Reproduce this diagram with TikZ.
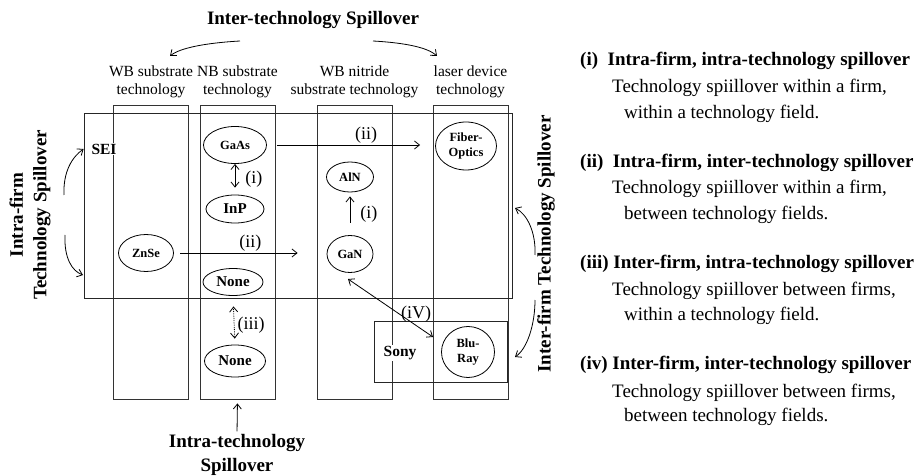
\documentclass[tikz,border=0pt]{standalone}
\usepackage{fontspec}
\setmainfont{Liberation Serif}
\usetikzlibrary{arrows.meta,shapes.geometric,positioning,calc}

\tikzset{
    >={Straight Barb[length=5pt,width=8pt]},
    col/.style={draw=black!80, line width=0.8pt, minimum width=75pt, minimum height=294pt, inner sep=0pt},
    firm/.style={draw=black!85, line width=0.8pt, inner sep=0pt},
    firmname/.style={fill=white, inner sep=1pt, font=\fontsize{15.5}{17}\selectfont\bfseries},
    tech/.style={ellipse, draw, line width=0.8pt, inner sep=0pt, align=center, font=\fontsize{12.5}{15}\selectfont\bfseries},
    bigtech/.style={tech, font=\fontsize{15}{17}\selectfont\bfseries},
    colname/.style={align=center, inner sep=1pt, font=\fontsize{15.5}{18}\selectfont},
    spill/.style={align=center, inner sep=1pt, font=\fontsize{19}{23.5}\selectfont\bfseries},
    kind/.style={inner sep=1pt, font=\fontsize{18}{20}\selectfont},
    flow/.style={->, line width=0.8pt},
    head/.style={anchor=base west, inner sep=0pt, font=\fontsize{19}{22}\selectfont\bfseries},
    body/.style={anchor=base west, inner sep=0pt, font=\fontsize{19}{22}\selectfont},
}

\begin{document}
\begin{tikzpicture}[x=1pt, y=-1pt]
    \useasboundingbox (0,0) rectangle (922,476);

    % technology columns
    \node[col] (colWB) at (151,252) {};
    \node[col] (colNB) at (237.5,252) {};
    \node[col] (colWN) at (354.5,252) {};
    \node[col] (colLD) at (470.5,252) {};
    \node[colname, above=6pt of colWB] {WB substrate\\technology};
    \node[colname, above=6pt of colNB] {NB substrate\\technology};
    \node[colname, above=6pt of colWN] {WB nitride\\substrate technology};
    \node[colname, above=6pt of colLD] {laser device\\technology};

    % firms
    \node[firm, minimum width=428pt, minimum height=185pt] (SEIbox) at (298,205.5) {};
    \node[firm, minimum width=133pt, minimum height=61pt] (Sonybox) at (440.5,351.5) {};
    \node[firmname] (SEI) at (104,149) {SEI};
    \node[firmname] (Sony) at (400,353) {Sony};

    % technologies
    \node[tech, minimum width=63pt, minimum height=37pt] (GaAs) at (235,145) {GaAs};
    \node[bigtech, minimum width=58pt, minimum height=28pt] (InP) at (235,209) {InP};
    \node[tech, minimum width=47pt, minimum height=30pt] (AlN) at (350,177) {AlN};
    \node[tech, minimum width=61pt, minimum height=48pt] (Fiber) at (466,146) {Fiber-\\Optics};
    \node[tech, minimum width=55pt, minimum height=37pt] (ZnSe) at (146,253) {ZnSe};
    \node[bigtech, minimum width=60pt, minimum height=27pt] (NoneA) at (233,282) {None};
    \node[tech, minimum width=46pt, minimum height=37pt] (GaN) at (350,254) {GaN};
    \node[bigtech, minimum width=61pt, minimum height=32pt] (NoneB) at (235,361) {None};
    \node[tech, minimum width=53pt, minimum height=51pt] (BluRay) at (468,352) {Blu-\\Ray};

    % spillovers
    \draw[flow, shorten <=10pt, shorten >=15pt] (GaAs.east) -- node[kind, pos=0.59, above]{(ii)} (GaAs.east -| Fiber.west);
    \draw[flow, <->, shorten >=7pt] (GaAs.south) -- node[kind, right=9pt]{(i)} (InP.north);
    \draw[flow, shorten <=12.5pt, shorten >=4pt] (GaN.north) -- node[kind, right=9pt]{(i)} (AlN.south);
    \draw[flow, shorten <=6.5pt, shorten >=29pt] (ZnSe.east) -- node[kind, midway, above]{(ii)} (ZnSe.east -| GaN.west);
    \draw[flow, <->, densely dotted, shorten <=10.5pt, shorten >=6pt] (NoneA.south) -- node[kind, pos=0.6, right=2pt]{(iii)} (NoneB.north);
    \coordinate (ivStart) at (348,279);
    \coordinate (ivEnd) at (433,337);
    \draw[flow, <->] (ivStart) -- node[kind, pos=0.8, above=2pt]{(iV)} (ivEnd);

    % spillover kinds
    \node[spill] (InterTech) at (313,20) {Inter-technology Spillover};
    \coordinate (itL) at (240,41);
    \coordinate (itR) at (373,41);
    \draw[flow] (itL) .. controls (205,43) and (180,48) .. (170,56);
    \draw[flow] (itR) .. controls (408,43) and (428,48) .. (437,56);

    \node[spill] (IntraTech) at (237,455) {Intra-technology\\Spillover};
    \draw[flow, shorten <=2pt, shorten >=4pt] (IntraTech.north) -- (colNB.south);

    \node[spill, rotate=90] (IntraFirm) at (30,215) {Intra-firm\\Technology Spillover};
    \draw[flow] (64,195) .. controls (63,172) and (72,157) .. (SEIbox.west |- SEI);
    \draw[flow] (65,235) .. controls (64,258) and (72,271) .. (83,275);

    \node[spill, rotate=90] (InterFirm) at (546,244) {Inter-firm Technology Spillover};
    \draw[flow] (535,255) .. controls (536,232) and (527,214) .. (515,208);
    \draw[flow] (535,300) .. controls (535,325) and (527,349) .. (515,357);

    % legend
    \node[head] (legI) at (580,66) {(i)\ \ Intra-firm, intra-technology spillover};
    \node[body] at (612,93) {Technology spiillover within a firm,};
    \node[body] at (624,119) {within a technology field.};
    \node[head] (legII) at (580,168) {(ii)\ \ Intra-firm, inter-technology spillover};
    \node[body] at (612,194) {Technology spiillover within a firm,};
    \node[body] at (624,220) {between technology fields.};
    \node[head] (legIII) at (580,269) {(iii) Inter-firm, intra-technology spillover};
    \node[body] at (612,295) {Technology spiillover between firms,};
    \node[body] at (624,320) {within a technology field.};
    \node[head] (legIV) at (580,369) {(iv) Inter-firm, inter-technology spillover};
    \node[body] at (612,397) {Technology spiillover between firms,};
    \node[body] at (624,421) {between technology fields.};
\end{tikzpicture}
\end{document}
